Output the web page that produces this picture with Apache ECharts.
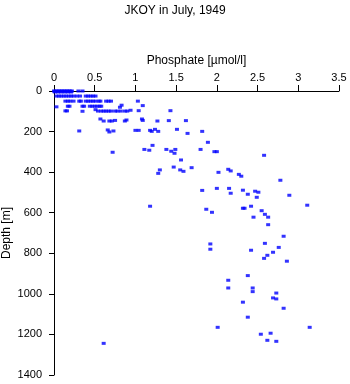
<!DOCTYPE html>
<html>
<head>
<meta charset="utf-8">
<script src="https://cdn.jsdelivr.net/npm/echarts@6/dist/echarts.min.js"></script>
<style>
html,body{margin:0;padding:0;background:#fff;}
#chart{width:350px;height:384px;}
</style>
</head>
<body>
<div id="chart"></div>
<script>
// Phosphate [µmol/l] values and matching depths [m]
const phosphate = [
  0, 0.02, 0.04, 0.06, 0.08, 0.1, 0.12, 0.14, 0.16, 0.18, 0.2, 0.22, 0.3, 0.35,
  0.01, 0.05, 0.09, 0.13, 0.17, 0.21,
  0.03, 0.06, 0.09, 0.12, 0.15, 0.18, 0.21, 0.24, 0.28, 0.32, 0.39, 0.42, 0.45, 0.48, 0.51,
  0.14, 0.17, 0.2, 0.24, 0.31, 0.33, 0.39, 0.42, 0.45, 0.48, 0.51, 0.55, 0.57, 0.64, 0.67, 0.7, 1.03,
  0.03, 0.17, 0.19, 0.35, 0.37, 0.44, 0.47, 0.5, 0.53, 0.56, 0.58, 0.81, 0.83, 1.09,
  0.14, 0.16, 0.35, 0.51, 0.54, 0.58, 0.61, 0.64, 0.67, 0.7, 0.75, 0.78, 0.82, 0.87, 0.9, 0.94, 1.04, 1.43,
  0.57, 0.61, 0.68, 0.71, 0.75, 0.87, 0.89, 1.08, 1.09, 1.27, 1.41, 1.62,
  0.31, 0.66, 0.68, 0.73, 1.0, 1.04, 1.18, 1.2, 1.24, 1.28, 1.51, 1.64, 1.82,
  0.72, 1.11, 1.17, 1.21, 1.38, 1.44, 1.48, 1.49, 1.56, 1.8, 1.89, 1.97, 2.0, 2.58,
  1.28, 1.3, 1.47, 1.55, 1.59, 1.69, 2.02, 2.14, 2.17, 2.27, 2.3, 2.78,
  1.82, 2.0, 2.15, 2.17, 2.32, 2.38, 2.47, 2.51, 2.49, 2.89,
  1.18, 3.11, 2.42, 2.32, 2.34, 1.87, 1.94, 2.55, 2.59, 2.63, 2.45, 2.63,
  2.82, 1.92, 1.92, 2.59, 2.76, 2.42, 2.69, 2.62, 2.58, 2.86,
  2.38, 2.14, 2.14, 2.44, 2.44, 2.73, 2.69, 2.73, 2.32, 2.82, 2.38, 2.01, 3.14, 2.54, 2.66, 2.62, 2.73, 0.61
];
const depth = [
  0, 0, 0, 0, 0, 0, 0, 0, 0, 0, 0, 0, 0, 0,
  5, 5, 5, 5, 5, 5,
  25, 25, 25, 25, 25, 25, 25, 25, 25, 25, 25, 25, 25, 25, 25,
  50, 50, 50, 50, 50, 50, 50, 50, 50, 50, 50, 50, 50, 50, 50, 50, 50,
  78, 75, 75, 75, 75, 75, 75, 75, 75, 75, 75, 80, 70, 72,
  98, 98, 100, 92, 99, 99, 99, 99, 99, 99, 99, 99, 99, 99, 99, 95, 97, 97,
  138, 148, 148, 148, 145, 148, 143, 138, 145, 148, 146, 146,
  197, 192, 202, 197, 194, 194, 194, 199, 189, 199, 189, 209, 199,
  302, 288, 292, 268, 288, 297, 307, 288, 340, 288, 253, 299, 299, 317,
  406, 389, 375, 389, 396, 378, 401, 386, 394, 411, 420, 440,
  490, 480, 480, 504, 489, 509, 494, 499, 524, 514,
  568, 563, 568, 578, 578, 583, 598, 590, 608, 622, 622, 659,
  716, 754, 780, 751, 771, 785, 795, 810, 825, 839,
  910, 933, 971, 971, 989, 996, 1020, 1025, 1041, 1071, 1115, 1165, 1165, 1199, 1194, 1229, 1234, 1244
];
const xTicks = { min: 0, max: 3.5, interval: 0.5 };
const yTicks = { min: 0, max: 1400, interval: 200 };

const points = phosphate.map((p, i) => [p, depth[i]]);
const font = "'Liberation Sans', Arial, Helvetica, sans-serif";

const chart = echarts.init(document.getElementById('chart'), null, { renderer: 'canvas' });
chart.setOption({
  backgroundColor: '#ffffff',
  animation: false,
  title: {
    text: 'JKOY in July, 1949',
    left: 'center',
    top: 0,
    textStyle: { fontFamily: font, fontSize: 12, fontWeight: 'normal', color: '#000' }
  },
  grid: { left: 54, right: 11, top: 91, bottom: 9, containLabel: false, outerBoundsMode: 'none' },
  xAxis: {
    type: 'value',
    position: 'top',
    min: xTicks.min, max: xTicks.max, interval: xTicks.interval,
    name: 'Phosphate [µmol/l]',
    nameLocation: 'middle',
    nameGap: 24,
    nameMoveOverlap: false,
    nameTextStyle: { fontFamily: font, fontSize: 12, color: '#000' },
    axisLine: { show: true, lineStyle: { color: '#000', width: 1 } },
    axisTick: { show: true, length: 6, lineStyle: { color: '#000' } },
    axisLabel: { fontFamily: font, fontSize: 11, color: '#000', margin: 8, formatter: v => String(v) },
    splitLine: { show: false }
  },
  yAxis: {
    type: 'value',
    inverse: true,
    min: yTicks.min, max: yTicks.max, interval: yTicks.interval,
    name: 'Depth [m]',
    nameLocation: 'middle',
    nameRotate: 90,
    nameGap: 41,
    nameMoveOverlap: false,
    nameTextStyle: { fontFamily: font, fontSize: 12, color: '#000' },
    axisLine: { show: true, lineStyle: { color: '#000', width: 1 } },
    axisTick: { show: true, length: 5, lineStyle: { color: '#000' } },
    axisLabel: { fontFamily: font, fontSize: 11, color: '#000', margin: 12, formatter: v => String(v) },
    splitLine: { show: false }
  },
  series: [{
    type: 'scatter',
    data: points,
    symbol: 'rect',
    symbolSize: [4, 3],
    itemStyle: { color: '#0000ff' }
  }]
});
</script>
</body>
</html>
